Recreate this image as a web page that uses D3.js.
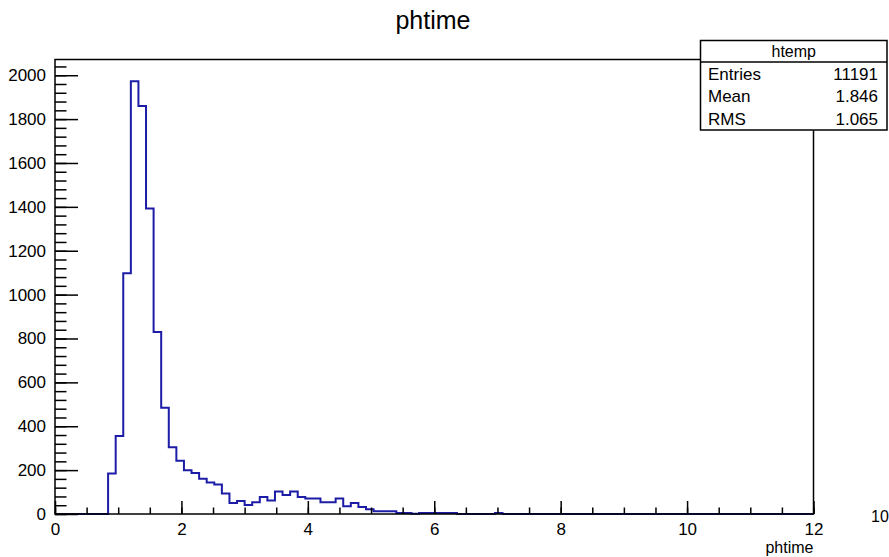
<!DOCTYPE html>
<html>
<head>
<meta charset="utf-8">
<script src="https://d3js.org/d3.v7.min.js"></script>
<style>
  body { margin: 0; background: #fff; }
  text { font-family: "Liberation Sans", Arial, sans-serif; }
</style>
</head>
<body>
<div id="chart"></div>
<script>
// histogram definition (100 bins from 0 to 12)
const xMin = 0, xMax = 12, nBins = 100;
const binCounts = [
  0, 0, 0, 0, 0, 0, 0, 185, 355, 1097,
  1973, 1860, 1393, 830, 484, 304, 243, 199, 187, 161,
  144, 135, 93, 50, 59, 41, 53, 77, 62, 102,
  87, 102, 77, 71, 71, 53, 53, 71, 35, 50,
  32, 22, 12, 12, 12, 5, 5, 1, 5, 5,
  5, 5, 5, 0, 0, 0, 0, 0, 5, 0,
  0, 0, 0, 0, 0, 0, 0, 0, 0, 0,
  0, 0, 0, 0, 0, 0, 0, 0, 0, 0,
  0, 0, 0, 0, 0, 0, 0, 0, 0, 0,
  0, 0, 0, 0, 0, 0, 0, 0, 0, 0
];
const xTicks = [0, 2, 4, 6, 8, 10, 12];
const yTicks = [0, 200, 400, 600, 800, 1000, 1200, 1400, 1600, 1800, 2000];
const statsNames = ["Entries", "Mean", "RMS"];
const statsValues = ["11191", "1.846", "1.065"];
const histName = "htemp";
const titleText = "phtime";

drawChart();

function drawChart() {
  const width = 889, height = 557;
  const frame = { left: 55, right: 813.5, top: 59.5, bottom: 514 };
  const yMax = d3.max(binCounts) * 1.05;

  const svg = d3
    .select("#chart")
    .append("svg")
    .attr("width", width)
    .attr("height", height);

  const x = d3.scaleLinear().domain([xMin, xMax]).range([frame.left, frame.right]);
  const y = d3.scaleLinear().domain([0, yMax]).range([frame.bottom, frame.top]);

  const binW = (xMax - xMin) / nBins;

  // step outline of the histogram
  const pts = [[xMin, 0]];
  binCounts.forEach(function (c, i) {
    pts.push([xMin + i * binW, c]);
    pts.push([xMin + (i + 1) * binW, c]);
  });
  pts.push([xMax, 0]);

  const line = d3
    .line()
    .x(function (d) { return x(d[0]); })
    .y(function (d) { return y(d[1]); });

  svg
    .append("path")
    .datum(pts)
    .attr("d", line)
    .attr("fill", "none")
    .attr("stroke", "#1c1ca6")
    .attr("stroke-width", 2);

  // frame
  svg
    .append("rect")
    .attr("x", frame.left)
    .attr("y", frame.top)
    .attr("width", frame.right - frame.left)
    .attr("height", frame.bottom - frame.top)
    .attr("fill", "none")
    .attr("stroke", "#000")
    .attr("stroke-width", 1.5);

  // Y axis: minor + major ticks pointing inward
  const yMinor = d3.range(0, yMax, 40);
  svg
    .append("g")
    .attr("transform", "translate(" + frame.left + ",0)")
    .call(d3.axisLeft(y).tickValues(yMinor).tickSize(-11.5).tickSizeOuter(0).tickFormat(""))
    .call(function (g) { g.select(".domain").remove(); });

  const gy = svg
    .append("g")
    .attr("transform", "translate(" + frame.left + ",0)")
    .call(d3.axisLeft(y).tickValues(yTicks).tickSize(-23).tickSizeOuter(0).tickPadding(9).tickFormat(d3.format("d")));
  gy.select(".domain").remove();

  // X axis
  const xMinor = d3.range(0, xMax + 0.001, 0.5);
  svg
    .append("g")
    .attr("transform", "translate(0," + frame.bottom + ")")
    .call(d3.axisBottom(x).tickValues(xMinor).tickSize(-6.5).tickSizeOuter(0).tickFormat(""))
    .call(function (g) { g.select(".domain").remove(); });

  const gx = svg
    .append("g")
    .attr("transform", "translate(0," + frame.bottom + ")")
    .call(d3.axisBottom(x).tickValues(xTicks).tickSize(-13).tickSizeOuter(0).tickPadding(9).tickFormat(d3.format("d")));
  gx.select(".domain").remove();

  svg.selectAll(".tick line").attr("stroke", "#000").attr("stroke-width", 1.5);
  svg
    .selectAll(".tick text")
    .attr("font-family", "Liberation Sans, Arial, sans-serif")
    .attr("font-size", 17)
    .attr("fill", "#000");

  // x axis title and exponent
  svg
    .append("text")
    .attr("x", frame.right)
    .attr("y", 553)
    .attr("text-anchor", "end")
    .attr("font-size", 16)
    .text(titleText);

  svg
    .append("text")
    .attr("x", 871)
    .attr("y", 522)
    .attr("font-size", 16)
    .text("10");

  // title
  svg
    .append("text")
    .attr("x", 433)
    .attr("y", 29)
    .attr("text-anchor", "middle")
    .attr("font-size", 25)
    .text(titleText);

  // stats box
  const box = { x0: 700.5, x1: 887, y0: 40.5, yh: 62, y1: 130 };
  svg
    .append("rect")
    .attr("x", box.x0)
    .attr("y", box.y0)
    .attr("width", box.x1 - box.x0)
    .attr("height", box.y1 - box.y0)
    .attr("fill", "#fff")
    .attr("stroke", "#000")
    .attr("stroke-width", 1.5);

  svg
    .append("line")
    .attr("x1", box.x0)
    .attr("x2", box.x1)
    .attr("y1", box.yh)
    .attr("y2", box.yh)
    .attr("stroke", "#000")
    .attr("stroke-width", 1.5);

  svg
    .append("text")
    .attr("x", (box.x0 + box.x1) / 2)
    .attr("y", 57)
    .attr("text-anchor", "middle")
    .attr("font-size", 16)
    .text(histName);

  const rowY = [80, 102, 125];
  statsNames.forEach(function (n, i) {
    svg.append("text").attr("x", 708).attr("y", rowY[i]).attr("font-size", 17).text(n);
    svg
      .append("text")
      .attr("x", 878)
      .attr("y", rowY[i])
      .attr("text-anchor", "end")
      .attr("font-size", 17)
      .text(statsValues[i]);
  });
}
</script>
</body>
</html>
